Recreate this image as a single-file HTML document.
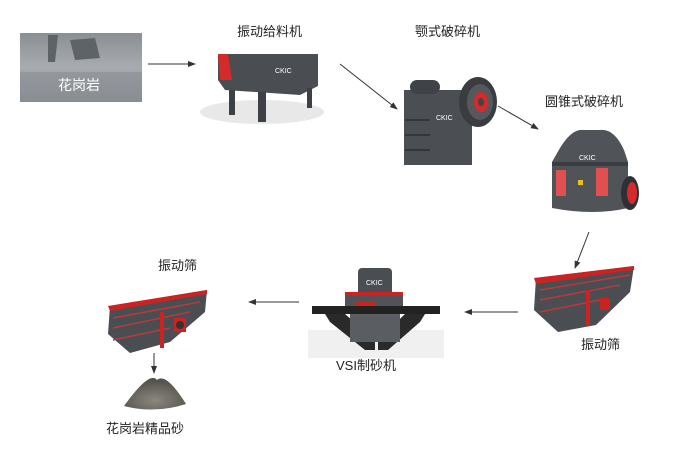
<!DOCTYPE html>
<html><head><meta charset="utf-8"><style>
html,body{margin:0;padding:0;background:#fff;width:700px;height:450px;overflow:hidden}
svg{display:block}
text{font-family:"Liberation Sans","Noto Sans CJK SC",sans-serif;font-size:13px;fill:#222}
</style></head><body>
<svg width="700" height="450" viewBox="0 0 700 450" xmlns="http://www.w3.org/2000/svg">
<defs>
<marker id="a" markerWidth="8" markerHeight="6" refX="7" refY="3" orient="auto"><path d="M0,0 L8,3 L0,6 z" fill="#333"/></marker>
<linearGradient id="g1" x1="0" y1="0" x2="0" y2="1"><stop offset="0" stop-color="#8a8f95"/><stop offset="0.5" stop-color="#a8acb0"/><stop offset="1" stop-color="#7d8186"/></linearGradient>
<radialGradient id="sand" cx="0.5" cy="0.7" r="0.6"><stop offset="0" stop-color="#8a877f"/><stop offset="1" stop-color="#55534d"/></radialGradient>
</defs>
<!-- granite -->
<rect x="20" y="33" width="122" height="69" fill="url(#g1)"/>
<path d="M48,35 L58,35 L55,62 L48,62 Z M70,40 L95,38 L100,58 L75,60 Z" fill="#5e6368"/>
<rect x="20" y="72" width="122" height="30" fill="#8f9398" opacity="0.7"/>
<text x="58" y="90" style="fill:#fff;font-size:14px">花岗岩</text>
<line x1="148" y1="64" x2="195" y2="64" stroke="#333" stroke-width="1" marker-end="url(#a)"/>
<!-- feeder -->
<text x="237" y="36">振动给料机</text>
<ellipse cx="262" cy="112" rx="62" ry="12" fill="#e8e8e8"/>
<polygon points="218,54 318,54 318,86 300,95 225,90 218,80" fill="#4a4d52"/>
<polygon points="218,54 228,54 232,80 220,80" fill="#d42a2a"/>
<rect x="229" y="90" width="6" height="25" fill="#3d4044"/>
<rect x="258" y="92" width="8" height="30" fill="#3d4044"/>
<rect x="307" y="88" width="5" height="20" fill="#3d4044"/>
<text x="275" y="73" style="fill:#fff;font-size:7px">CKIC</text>
<line x1="340" y1="64" x2="397" y2="109" stroke="#333" stroke-width="1" marker-end="url(#a)"/>
<!-- jaw crusher -->
<text x="415" y="36">颚式破碎机</text>
<rect x="404" y="90" width="68" height="75" fill="#4b4e53"/>
<rect x="410" y="80" width="30" height="14" rx="7" fill="#3f4246"/>
<g stroke="#33363a" stroke-width="2"><line x1="405" y1="120" x2="430" y2="120"/><line x1="405" y1="135" x2="430" y2="135"/><line x1="405" y1="150" x2="430" y2="150"/></g>
<ellipse cx="478" cy="102" rx="19" ry="25" fill="#3a3c40"/>
<ellipse cx="480" cy="102" rx="13" ry="18" fill="#55585d"/>
<ellipse cx="481" cy="102" rx="7" ry="10" fill="#d42a2a"/>
<ellipse cx="481" cy="102" rx="3" ry="4" fill="#444"/>
<text x="436" y="120" style="fill:#fff;font-size:7px">CKIC</text>
<line x1="498" y1="106" x2="538" y2="129" stroke="#333" stroke-width="1" marker-end="url(#a)"/>
<!-- cone crusher -->
<text x="545" y="106">圆锥式破碎机</text>
<path d="M560,148 Q572,128 584,130 L600,130 Q614,128 624,150 L628,162 L628,208 Q594,216 552,208 L552,162 Z" fill="#505358"/>
<rect x="552" y="162" width="76" height="4" fill="#3a3d41"/>
<rect x="556" y="170" width="10" height="26" fill="#e05050"/>
<rect x="596" y="168" width="12" height="28" fill="#e05050"/>
<rect x="578" y="180" width="5" height="5" fill="#e8c020"/>
<ellipse cx="630" cy="193" rx="9" ry="17" fill="#2e3034"/>
<ellipse cx="632" cy="193" rx="5" ry="11" fill="#d42a2a"/>
<text x="579" y="160" style="fill:#fff;font-size:7px">CKIC</text>
<line x1="589" y1="232" x2="575" y2="268" stroke="#333" stroke-width="1" marker-end="url(#a)"/>
<!-- right screen -->
<polygon points="536,278 634,266 630,292 596,325 558,332 534,310" fill="#4a4d52"/>
<polygon points="534,278 634,266 634,270 536,284" fill="#cc2222"/>
<g stroke="#b83a3a" stroke-width="1.5"><line x1="540" y1="290" x2="630" y2="275"/><line x1="540" y1="300" x2="620" y2="285"/><line x1="540" y1="312" x2="600" y2="300"/></g>
<rect x="586" y="290" width="4" height="36" fill="#cc2222"/>
<rect x="600" y="298" width="10" height="12" fill="#cc2222"/>
<text x="581" y="349">振动筛</text>
<line x1="518" y1="312" x2="465" y2="312" stroke="#333" stroke-width="1" marker-end="url(#a)"/>
<!-- VSI -->
<rect x="308" y="330" width="136" height="28" fill="#f0f0f0"/>
<rect x="358" y="268" width="34" height="28" rx="4" fill="#4a4d52"/>
<rect x="345" y="292" width="58" height="22" fill="#505358"/>
<rect x="345" y="292" width="58" height="3" fill="#cc2222"/>
<rect x="355" y="302" width="20" height="6" fill="#cc2222"/>
<rect x="312" y="306" width="128" height="8" fill="#222"/>
<polygon points="325,314 345,314 375,340 375,350 365,350 330,322" fill="#2a2a2a"/>
<polygon points="425,314 405,314 378,340 378,350 388,350 420,322" fill="#2a2a2a"/>
<rect x="350" y="314" width="50" height="28" fill="#5a5d62"/>
<text x="366" y="285" style="fill:#fff;font-size:7px">CKIC</text>
<text x="336" y="370">VSI制砂机</text>
<line x1="299" y1="302" x2="249" y2="302" stroke="#333" stroke-width="1" marker-end="url(#a)"/>
<!-- left screen -->
<text x="158" y="270">振动筛</text>
<polygon points="110,306 207,290 205,312 170,342 130,353 108,334" fill="#4a4d52"/>
<polygon points="108,306 207,290 207,294 110,311" fill="#cc2222"/>
<g stroke="#b83a3a" stroke-width="1.5"><line x1="113" y1="318" x2="200" y2="302"/><line x1="113" y1="328" x2="190" y2="312"/><line x1="113" y1="340" x2="170" y2="328"/></g>
<rect x="160" y="312" width="4" height="36" fill="#cc2222"/>
<rect x="174" y="318" width="12" height="14" fill="#cc2222"/>
<circle cx="180" cy="325" r="4" fill="#333"/>
<line x1="154" y1="353" x2="154" y2="373" stroke="#333" stroke-width="1" marker-end="url(#a)"/>
<!-- sand -->
<path d="M124,406 Q150,370 157,380 Q166,372 186,404 Q155,414 124,406 Z" fill="url(#sand)"/>
<text x="106" y="433">花岗岩精品砂</text>
</svg>
</body></html>
